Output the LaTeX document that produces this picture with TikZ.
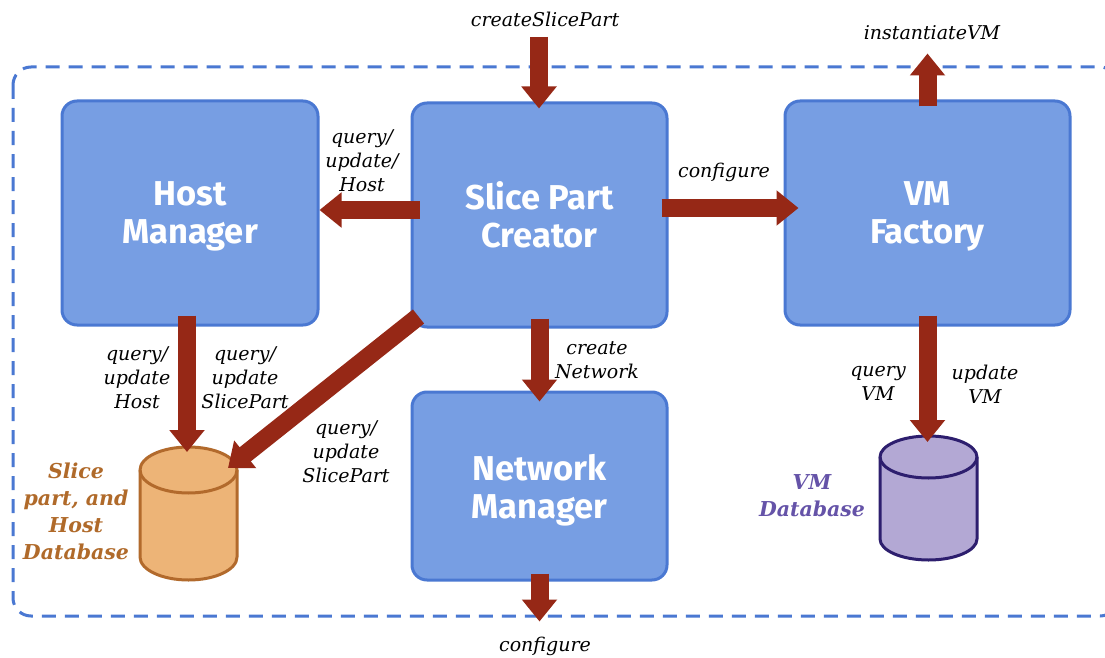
\documentclass[tikz,border=0pt]{standalone}
\usepackage{fontspec}
\setmainfont{DejaVu Serif}
\setsansfont{Fira Sans}
\usetikzlibrary{arrows.meta}

\definecolor{boxfill}{HTML}{779EE3}
\definecolor{boxline}{HTML}{4A78D2}
\definecolor{arrowred}{HTML}{962816}
\definecolor{dbofill}{HTML}{EDB477}
\definecolor{dboline}{HTML}{B26A2C}
\definecolor{dbotext}{HTML}{B06A2A}
\definecolor{dbpfill}{HTML}{B3A8D4}
\definecolor{dbpline}{HTML}{2D1E6E}
\definecolor{dbptext}{HTML}{6553A8}

\tikzset{
  compbox/.style={draw=boxline, fill=boxfill, line width=3pt, rounded corners=15pt,
    minimum height=224pt, align=center, text=white, text depth=0pt,
    font=\sffamily\bfseries\fontsize{34.5}{38}\selectfont},
  flow/.style={draw=arrowred, line width=18pt,
    -{Triangle[width=34pt,length=22pt]}},
  lbl/.style={align=center, font=\itshape\fontsize{19}{24}\selectfont},
  dblbl/.style={align=center, font=\bfseries\itshape\fontsize{20.5}{27}\selectfont},
}

\begin{document}
\begin{tikzpicture}[x=1pt,y=-1pt]
\useasboundingbox (0,0) rectangle (1105,658);
\clip (0,0) rectangle (1105,658);
\fill[white] (0,0) rectangle (1105,658);
\draw[boxline, line width=3pt, dash pattern=on 14pt off 9pt, rounded corners=18pt] (13,67) rectangle (1118,616);

% components
\node[compbox, minimum width=256pt] (hm) at (190,213) {Host\\Manager};
\node[compbox, minimum width=255pt] (spc) at (539.5,215) {Slice Part\\Creator};
\node[compbox, minimum width=285pt] (vmf) at (927.5,213) {VM\\Factory};
\node[compbox, minimum width=255pt, minimum height=188pt] (nm) at (539.5,486) {Network\\Manager};

% databases
\draw[draw=dboline, fill=dbofill, line width=3pt] (140,470) -- (140,557)
  arc[start angle=180, end angle=0, x radius=48.5, y radius=23] -- (237,470)
  arc[start angle=0, end angle=-180, x radius=48.5, y radius=23] -- cycle;
\draw[dboline, line width=3pt] (140,470) arc[start angle=180, end angle=0, x radius=48.5, y radius=23];
\coordinate (sdb top) at (188.5,447);
\coordinate (sdb ne) at (228,468);
\node[dblbl, text=dbotext] (sdbl) at (76,511) {Slice\\part, and\\Host\\Database};

\draw[draw=dbpline, fill=dbpfill, line width=3pt] (880,457) -- (880,539)
  arc[start angle=180, end angle=0, x radius=48.5, y radius=21] -- (977,457)
  arc[start angle=0, end angle=-180, x radius=48.5, y radius=21] -- cycle;
\draw[dbpline, line width=3pt] (880,457) arc[start angle=180, end angle=0, x radius=48.5, y radius=21];
\coordinate (vdb top) at (928,436);
\node[dblbl, text=dbptext] (vdbl) at (812,496) {VM\\Database};

% connectors
\coordinate (csp in) at (539,37);
\node[lbl] (cspl) at (545,19) {createSlicePart};
\draw[flow, shorten >=-7pt] (csp in) -- (csp in |- spc.north);

\node[lbl] (ivml) at (932,33) {instantiateVM};
\draw[flow] ([yshift=-7pt]vmf.north) -- ++(0,-53);

\coordinate (hq) at ([shift={(9,-5)}]spc.west);
\draw[flow] (hq) -- (hq -| hm.east);
\node[lbl] (hql) at (362,161) {query/\\update/\\Host};

\coordinate (cf) at ([shift={(-7,-7)}]spc.east);
\draw[flow, shorten >=-15pt] (cf) -- (cf -| vmf.west);
\node[lbl] (cfl) at (724,172) {configure};

\coordinate (hd) at ([shift={(-3,-11)}]hm.south);
\draw[flow, shorten >=-5pt] (hd) -- (hd |- sdb top);
\node[lbl] (hdl) at (137,378) {query/\\update\\Host};
\node[lbl] (hdsl) at (245,378) {query/\\update\\SlicePart};

\draw[flow] ([shift={(8,-12)}]spc.south west) -- (sdb ne);
\node[lbl] (dgl) at (346,452) {query/\\update\\SlicePart};

\draw[flow, shorten >=-11pt] ([yshift=10pt]spc.south) -- (nm.north);
\node[lbl] (cnl) at (597,360) {create\\Network};

\draw[flow] ([yshift=8pt]nm.south) -- ++(0,48);
\node[lbl] (nmcl) at (545,646) {configure};

\coordinate (vd) at ([yshift=11pt]vmf.south);
\draw[flow, shorten >=-6pt] (vd) -- (vd |- vdb top);
\node[lbl] (qvl) at (878,383) {query\\VM};
\node[lbl] (uvl) at (985,384) {update\\VM};
\end{tikzpicture}
\end{document}
